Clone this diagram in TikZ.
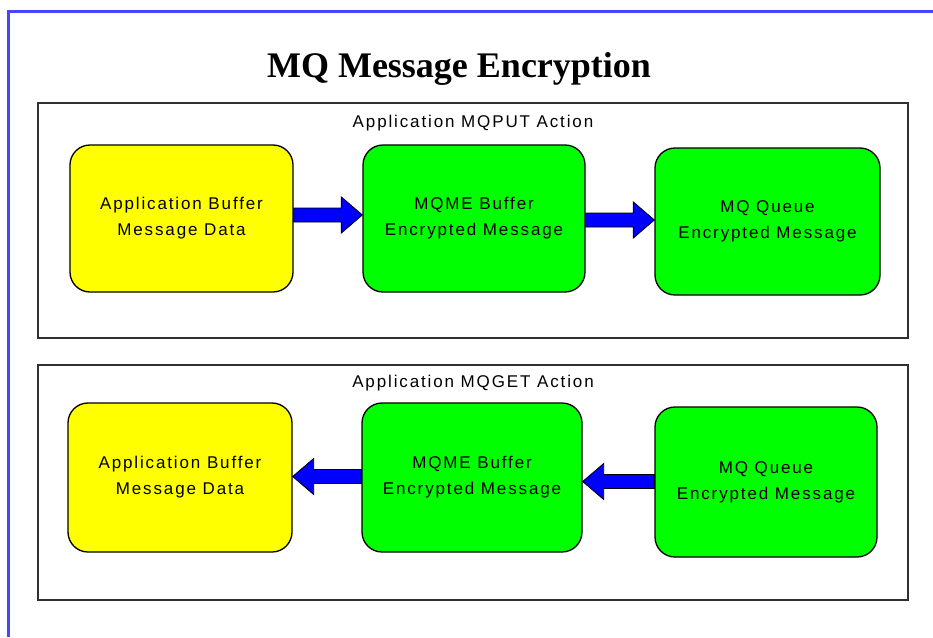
\documentclass[tikz,border=0pt]{standalone}
\usepackage{fontspec}
\setmainfont{Liberation Serif}
\newfontfamily\uisans[LetterSpace=11]{Liberation Sans}
\usetikzlibrary{calc}
\definecolor{frameblue}{HTML}{4646FF}
\definecolor{boxyellow}{HTML}{FFFF00}
\definecolor{boxgreen}{HTML}{00FF00}
\definecolor{arrowblue}{HTML}{0000FF}
\definecolor{panelline}{HTML}{303030}
\tikzset{
  procbox/.style={draw=black, line width=1.3pt, rounded corners=20pt, align=center,
    font=\uisans\fontsize{17}{26}\selectfont, inner sep=0pt},
  yellowbox/.style={procbox, fill=boxyellow},
  greenbox/.style={procbox, fill=boxgreen},
  panel/.style={draw=panelline, line width=1.5pt},
  panellabel/.style={font=\uisans\fontsize{17}{20}\selectfont, inner sep=0pt},
  blockarrow/.style={draw=black, line width=0.8pt, fill=arrowblue, line join=miter},
}
\newcommand{\blkarrow}[3]{%
  \draw[blockarrow] ($(#1)+(0,-7)$) -- ($(#2)+(-21*#3,-7)$) -- ($(#2)+(-21*#3,-18)$) --
    (#2) -- ($(#2)+(-21*#3,18)$) -- ($(#2)+(-21*#3,7)$) -- ($(#1)+(0,7)$) -- cycle;}
\begin{document}
\begin{tikzpicture}[x=1pt,y=-1pt]
\useasboundingbox (0,0) rectangle (933,637);
\fill[white] (0,0) rectangle (933,637);
% blue frame
\coordinate (fA) at (8.5,637);
\coordinate (fB) at (8.5,11.5);
\coordinate (fC) at (933,11.5);
\draw[frameblue, line width=2.5pt] (fA) -- (fB) -- (fC);
% title
\node[anchor=base, font=\bfseries\fontsize{36}{40}\selectfont, inner sep=0pt] (title) at (459,77) {MQ Message Encryption};
% panels
\node[panel, minimum width=870pt, minimum height=235pt, inner sep=0pt] (panelput) at (473,220.5) {};
\node[panel, minimum width=870pt, minimum height=235pt, inner sep=0pt] (panelget) at (473,482.5) {};
\node[panellabel] (lblput) at (473,123) {Application MQPUT Action};
\node[panellabel] (lblget) at (473,383) {Application MQGET Action};
% upper row
\node[yellowbox, minimum width=223pt, minimum height=147pt] (ab1) at (181.5,218.5) {Application Buffer\\Message Data};
\node[greenbox, minimum width=222pt, minimum height=147pt] (mb1) at (474,218.5) {MQME Buffer\\Encrypted Message};
\node[greenbox, minimum width=225pt, minimum height=147pt] (mq1) at (767.5,221.5) {MQ Queue\\Encrypted Message};
% lower row
\node[yellowbox, minimum width=224pt, minimum height=149pt] (ab2) at (180,477.5) {Application Buffer\\Message Data};
\node[greenbox, minimum width=220pt, minimum height=149pt] (mb2) at (472,477.5) {MQME Buffer\\Encrypted Message};
\node[greenbox, minimum width=222pt, minimum height=150pt] (mq2) at (766,482) {MQ Queue\\Encrypted Message};
% arrows
\coordinate (s1) at ($(ab1.east)+(0,-3.5)$);
\coordinate (t1) at ($(mb1.west)+(0,-3.5)$);
\blkarrow{s1}{t1}{1}
\coordinate (s2) at ($(mb1.east)+(0,1.5)$);
\coordinate (t2) at ($(mq1.west)+(0,-1.5)$);
\blkarrow{s2}{t2}{1}
\coordinate (s3) at ($(mb2.west)+(0,-1)$);
\coordinate (t3) at ($(ab2.east)+(0,-1)$);
\blkarrow{s3}{t3}{-1}
\coordinate (s4) at ($(mq2.west)+(0,-0.5)$);
\coordinate (t4) at ($(mb2.east)+(0,4)$);
\blkarrow{s4}{t4}{-1}
\end{tikzpicture}
\end{document}
